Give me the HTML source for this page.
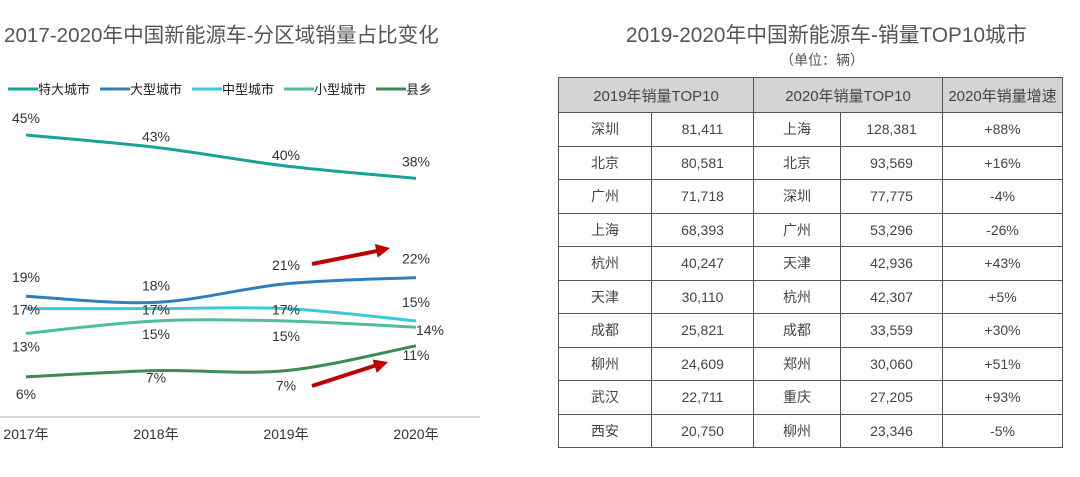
<!DOCTYPE html>
<html><head><meta charset="utf-8">
<style>
body{margin:0;width:1080px;height:477px;background:#fff;font-family:"Liberation Sans","Noto Sans CJK SC",sans-serif;position:relative;overflow:hidden;color:#333}
.t{position:absolute;white-space:nowrap}
table{position:absolute;left:558px;top:77px;border-collapse:collapse;font-size:14px;color:#444}
td{border:1.5px solid #555;text-align:center;height:32.5px;padding:0}
th{border:1.5px solid #555;background:#d4d4d4;font-weight:normal;height:34px;padding:0;font-size:15px}
</style></head><body>
<div class="t" style="left:4px;top:18px;font-size:20.6px;color:#555">2017-2020年中国新能源车-分区域销量占比变化</div>
<div class="t" style="left:626px;top:18px;font-size:20.8px;color:#555">2019-2020年中国新能源车-销量TOP10城市</div>
<div class="t" style="left:780px;top:50px;font-size:14px;color:#555">（单位：辆）</div>
<svg id="chart" width="480" height="450" style="position:absolute;left:0;top:0" font-family="Liberation Sans, Noto Sans CJK SC, sans-serif"></svg>
<table>
<tr><th colspan="2" style="width:194px">2019年销量TOP10</th><th colspan="2" style="width:188px">2020年销量TOP10</th><th style="width:119px">2020年销量增速</th></tr>
<tbody id="tb"></tbody>
</table>
<script>
const years=["2017年","2018年","2019年","2020年"];
const seriesNames=["特大城市","大型城市","中型城市","小型城市","县乡"];
const sTeda=[45,43,40,38];
const sDaxing=[19,18,21,22];
const sZhongxing=[17,17,17,15];
const sXiaoxing=[13,15,15,14];
const sXianxiang=[6,7,7,11];
const colors=["#17a398","#2f7fc0","#38cbd8","#4dbf99","#3d8b52"];
const labelOff=[[[0,-12],[0,-6],[0,-6],[0,-12]],[[0,-14],[0,-12],[0,-14],[0,-14]],[[0,6],[0,6],[0,6],[0,-14]],[[0,18],[0,18],[0,20],[14,8]],[[0,22],[0,12],[0,20],[0,14]]];
const svg=document.getElementById('chart');const NS="http://www.w3.org/2000/svg";
const xs=i=>26+i*130, ys=v=>135+(45-v)*6.2;
function mk(t,a){const e=document.createElementNS(NS,t);for(const k in a)e.setAttribute(k,a[k]);svg.appendChild(e);return e;}
const ax=mk('line',{x1:0,x2:480,y1:417,y2:417,stroke:'#ccc','stroke-width':1.5});


years.forEach((y,i)=>{const t=mk('text',{x:xs(i),y:439,'font-size':14,'text-anchor':'middle',fill:'#333'});t.textContent=y;

});
const all=[sTeda,sDaxing,sZhongxing,sXiaoxing,sXianxiang];
all.forEach((s,k)=>{const p=s.map((v,i)=>[xs(i),ys(v)]);let d=`M${p[0][0]},${p[0][1]}`;
for(let i=0;i<p.length-1;i++){const p0=p[i-1]||p[i],p1=p[i],p2=p[i+1],p3=p[i+2]||p2;
d+=` C${p1[0]+(p2[0]-p0[0])/6},${p1[1]+(p2[1]-p0[1])/6} ${p2[0]-(p3[0]-p1[0])/6},${p2[1]-(p3[1]-p1[1])/6} ${p2[0]},${p2[1]}`;}
const l=mk('path',{d:d,fill:'none',stroke:colors[k],'stroke-width':3});


s.forEach((v,i)=>{const o=labelOff[k][i];const t=mk('text',{x:xs(i)+o[0],y:ys(v)+o[1],'font-size':14,'text-anchor':'middle',fill:'#333'});t.textContent=v+'%';

});
const lx=[8,100,192,284,376][k];
const ll=mk('line',{x1:lx,x2:lx+30,y1:89,y2:89,stroke:colors[k],'stroke-width':3});


const lt=mk('text',{x:lx+30,y:94,'font-size':13,fill:'#222'});lt.textContent=seriesNames[k];

});
[[312,264,390,248],[312,386,388,362]].forEach(a=>{const g=mk('line',{x1:a[0],y1:a[1],x2:a[2]-8,y2:a[3]+2,stroke:'#c00000','stroke-width':4});


const ang=Math.atan2(a[3]-a[1],a[2]-a[0]);const h=mk('polygon',{points:`${a[2]},${a[3]} ${a[2]-14*Math.cos(ang)+7*Math.sin(ang)},${a[3]-14*Math.sin(ang)-7*Math.cos(ang)} ${a[2]-14*Math.cos(ang)-7*Math.sin(ang)},${a[3]-14*Math.sin(ang)+7*Math.cos(ang)}`,fill:'#c00000'});

});
const c19=["深圳","北京","广州","上海","杭州","天津","成都","柳州","武汉","西安"];
const v19=["81,411","80,581","71,718","68,393","40,247","30,110","25,821","24,609","22,711","20,750"];
const c20=["上海","北京","深圳","广州","天津","杭州","成都","郑州","重庆","柳州"];
const v20=["128,381","93,569","77,775","53,296","42,936","42,307","33,559","30,060","27,205","23,346"];
const gr=["+88%","+16%","-4%","-26%","+43%","+5%","+30%","+51%","+93%","-5%"];
const tb=document.getElementById('tb');
c19.forEach((c,i)=>{const tr=document.createElement('tr');


tr.innerHTML=`<td style="width:92px">${c}</td><td>${v19[i]}</td><td style="width:86px">${c20[i]}</td><td>${v20[i]}</td><td>${gr[i]}</td>`;tb.appendChild(tr);});
</script>
</body></html>
